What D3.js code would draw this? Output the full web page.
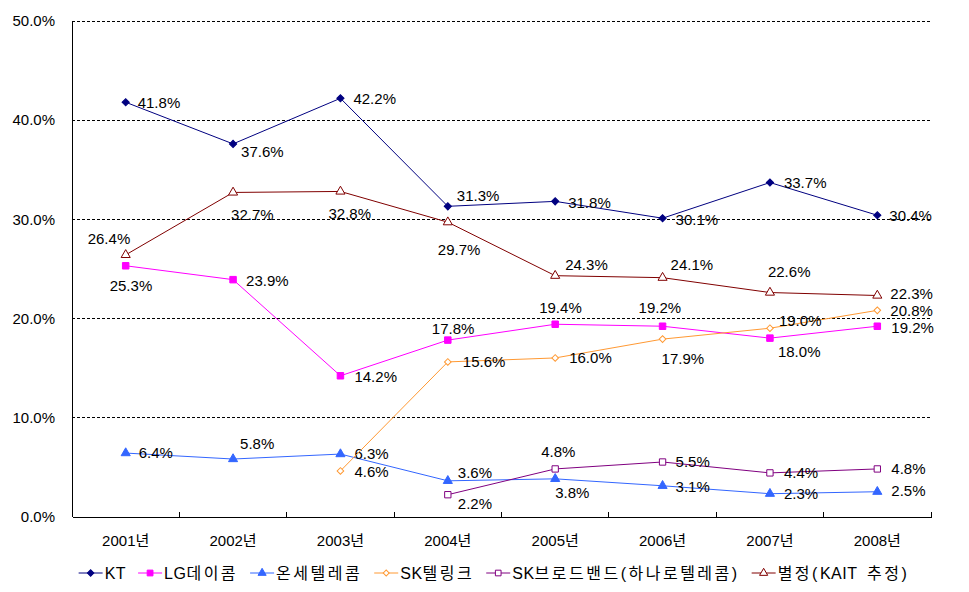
<!DOCTYPE html>
<html><head><meta charset="utf-8">
<script src="https://cdn.jsdelivr.net/npm/d3@7/dist/d3.min.js"></script>
<style>
body{margin:0;background:#fff}
text{font-family:"Liberation Sans","Noto Sans CJK KR",sans-serif;fill:#000}
</style>
</head><body>
<svg id="c" width="969" height="592"></svg>
<script>
// ---- data ----
const categories = ["2001년","2002년","2003년","2004년","2005년","2006년","2007년","2008년"];
const seriesNames = ["KT","LG데이콤","온세텔레콤","SK텔링크","SK브로드밴드(하나로텔레콤)","별정(KAIT  추정)"];
const ktValues      = [41.8, 37.6, 42.2, 31.3, 31.8, 30.1, 33.7, 30.4];
const lgValues      = [25.3, 23.9, 14.2, 17.8, 19.4, 19.2, 18.0, 19.2];
const onseValues    = [6.4, 5.8, 6.3, 3.6, 3.8, 3.1, 2.3, 2.5];
const sktValues     = [null, null, 4.6, 15.6, 16.0, 17.9, 19.0, 20.8];
const skbValues     = [null, null, null, 2.2, 4.8, 5.5, 4.4, 4.8];
const byeolValues   = [26.4, 32.7, 32.8, 29.7, 24.3, 24.1, 22.6, 22.3];
const yTickValues   = [0, 10, 20, 30, 40, 50];

// ---- styles (kept separate from data) ----
const colors  = ["#000080","#FF00FF","#3366FF","#FF9933","#800080","#800000"];
const symbols = [d3.symbolSquare, d3.symbolSquare, d3.symbolTriangle, d3.symbolSquare, d3.symbolSquare, d3.symbolTriangle];
const symRot  = [45, 0, 0, 45, 0, 0];
const symSize = [26, 42, 36, 22, 40, 36];
const hollow  = [false, false, false, true, true, true];
// label offsets [dx to text left, dy to text middle] relative to each point
const labelOffsets = [
  [[12,0],[8,8],[13,0],[9,-11],[13,1],[13,1],[14,0],[12,0]],
  [[-16,20],[13,1],[14,1],[-16,-12],[-16,-17],[-24,-19],[8,13],[14,1]],
  [[13,0],[7,-15],[14,0],[10,-8],[0,14],[13,1],[14,0],[14,-1]],
  [null,null,[14,1],[15,0],[14,0],[-1,19],[9,-8],[13,0]],
  [null,null,null,[10,9],[-14,-17],[13,0],[14,0],[14,0]],
  [[-38,-16],[-2,22],[-12,22],[-10,27],[10,-11],[8,-13],[-2,-21],[13,-1.5]]
];

const allSeries = [ktValues, lgValues, onseValues, sktValues, skbValues, byeolValues];

const svg = d3.select("#c");
const margin = {left:72, right:38, top:21, bottom:75.5};
const W = 969, H = 592;
const x = d3.scaleBand().domain(categories).range([margin.left, W - margin.right]);
const y = d3.scaleLinear().domain([0, 50]).range([H - margin.bottom, margin.top]);
const cx = c => x(c) + x.bandwidth()/2;

// gridlines
const grid = svg.append("g").attr("transform", `translate(${margin.left},0)`)
  .call(d3.axisLeft(y).tickValues(yTickValues.filter(v => v > 0)).tickSize(-(W - margin.right - margin.left)).tickFormat(""));
grid.select(".domain").remove();
grid.selectAll("line").attr("stroke","#000").attr("stroke-width",1).attr("stroke-dasharray","3,2").attr("shape-rendering","crispEdges");

// y axis labels
const yAx = svg.append("g").attr("transform", `translate(${margin.left},0)`)
  .call(d3.axisLeft(y).tickValues(yTickValues).tickSize(0).tickPadding(17).tickFormat(d => d.toFixed(1) + "%"));
yAx.select(".domain").attr("stroke","#000").attr("shape-rendering","crispEdges");
yAx.selectAll("text").style("font-size","15px").attr("fill","#000");

// x axis
const xAx = svg.append("g").attr("transform", `translate(0,${y(0)})`)
  .call(d3.axisBottom(x).tickSize(0).tickPadding(19));
xAx.select(".domain").attr("stroke","#000").attr("shape-rendering","crispEdges");
xAx.selectAll("text").style("font-size","15px").attr("fill","#000");
// boundary ticks (inside)
const bounds = categories.map(c => x(c)).concat([x(categories[categories.length-1]) + x.bandwidth()]);
xAx.selectAll("line.bt").data(bounds.slice(1)).enter().append("line").attr("class","bt")
  .attr("x1", d => d).attr("x2", d => d).attr("y1", 0).attr("y2", -5)
  .attr("stroke","#000").attr("shape-rendering","crispEdges");

// lines, markers, labels
const line = d3.line().defined(d => d.v != null).x(d => cx(d.c)).y(d => y(d.v));
allSeries.forEach((vals, si) => {
  const pts = vals.map((v, i) => ({c: categories[i], v, i}));
  const g = svg.append("g");
  g.append("path").datum(pts).attr("d", line).attr("fill","none")
    .attr("stroke", colors[si]).attr("stroke-width", 1);
  g.selectAll("path.m").data(pts.filter(p => p.v != null)).enter().append("path").attr("class","m")
    .attr("d", d3.symbol().type(symbols[si]).size(symSize[si]))
    .attr("transform", d => `translate(${cx(d.c)},${y(d.v)}) rotate(${symRot[si]})`)
    .attr("fill", hollow[si] ? "#fff" : colors[si])
    .attr("stroke", colors[si]).attr("stroke-width", 1);
  g.selectAll("text").data(pts.filter(p => p.v != null)).enter().append("text")
    .attr("x", d => cx(d.c) + labelOffsets[si][d.i][0])
    .attr("y", d => y(d.v) + labelOffsets[si][d.i][1])
    .attr("dy","0.36em")
    .style("font-size","15px")
    .text(d => d.v.toFixed(1) + "%");
});

// legend
const leg = svg.append("g");
let lx = 0;
const lineLen = 24, gap = 2, itemGap = 12, ly = 573;
const isHangul = ch => /[\uAC00-\uD7A3]/.test(ch);
seriesNames.forEach((name, si) => {
  const it = leg.append("g").attr("transform", `translate(${lx},0)`);
  it.append("line").attr("x1",0).attr("x2",lineLen).attr("y1",ly).attr("y2",ly).attr("stroke",colors[si]);
  it.append("path").attr("d", d3.symbol().type(symbols[si]).size(symSize[si]*0.8))
    .attr("transform", `translate(${lineLen/2},${ly}) rotate(${symRot[si]})`)
    .attr("fill", hollow[si] ? "#fff" : colors[si]).attr("stroke", colors[si]);
  const t = it.append("text").attr("x", lineLen + gap).attr("y", ly).attr("dy","0.36em")
    .style("font-size","16px").style("white-space","pre").attr("xml:space","preserve");
  // split into runs; Hangul runs get extra letter spacing (wide Gulim-like glyphs)
  const runs = [];
  for (const ch of name) {
    const h = isHangul(ch) || ch === "(" || ch === ")";
    if (runs.length && runs[runs.length-1].h === h) runs[runs.length-1].s += ch;
    else runs.push({h, s: ch});
  }
  runs.forEach(r => t.append("tspan").style("letter-spacing", r.h ? "2.5px" : "0.5px").text(r.s));
  lx += lineLen + gap + t.node().getComputedTextLength() + itemGap;
});
const total = lx - itemGap;
leg.attr("transform", `translate(${494 - total/2},0)`);
</script>
</body></html>
